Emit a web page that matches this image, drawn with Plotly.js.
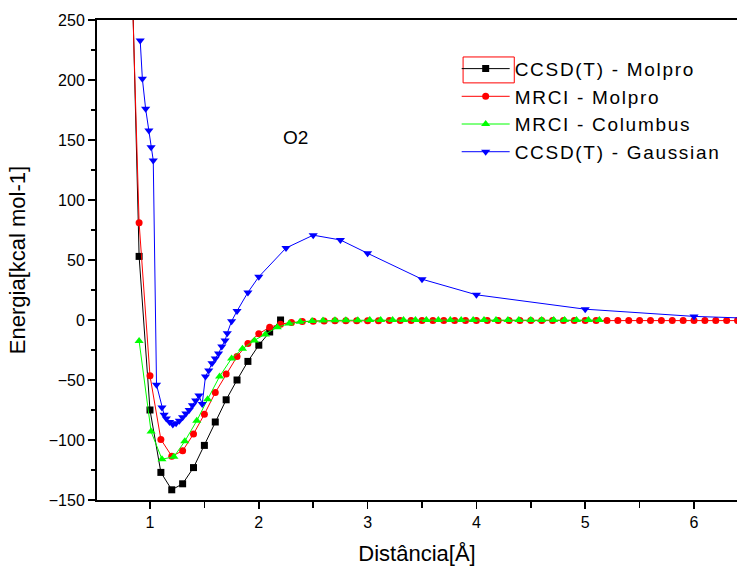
<!DOCTYPE html>
<html>
<head>
<meta charset="utf-8">
<script src="https://cdn.plot.ly/plotly-3.0.1.min.js"></script>
<style>
html,body{margin:0;padding:0;background:#fff;}
#chart{width:737px;height:570px;}
.legendtext{letter-spacing:1.7px;}
</style>
</head>
<body>
<div id="chart"></div>
<script>
// CCSD(T) - Molpro
const blackX = [0.8, 0.9, 1.0, 1.1, 1.2, 1.3, 1.4, 1.5, 1.6, 1.7, 1.8, 1.9, 2.0, 2.1, 2.2];
const blackY = [418, 53, -75, -127, -141.5, -136.5, -123, -104.5, -85, -66.5, -50, -34.5, -21, -10, 0];

// MRCI - Molpro
const redX = [0.8, 0.9, 1.0, 1.1, 1.2, 1.3, 1.4, 1.5, 1.6, 1.7, 1.8, 1.9, 2.0, 2.1, 2.2, 2.3, 2.4, 2.5, 2.6, 2.7,
  2.8, 2.9, 3.0, 3.1, 3.2, 3.3, 3.4, 3.5, 3.6, 3.7, 3.8, 3.9, 4.0, 4.1, 4.2, 4.3, 4.4, 4.5, 4.6, 4.7,
  4.8, 4.9, 5.0, 5.1, 5.2, 5.3, 5.4, 5.5, 5.6, 5.7, 5.8, 5.9, 6.0, 6.1, 6.2, 6.3, 6.4];
const redY = [388, 81, -46.5, -99.5, -113.5, -109, -95, -78.5, -60.5, -45, -30.5, -19.5, -11.5, -6, -3.5, -2, -1.3, -1, -0.8, -0.7,
  -0.6, -0.6, -0.6, -0.6, -0.5, -0.5, -0.5, -0.5, -0.5, -0.5, -0.5, -0.5, -0.5, -0.5, -0.5, -0.5, -0.5, -0.5, -0.5, -0.5,
  -0.5, -0.5, -0.5, -0.5, -0.5, -0.5, -0.5, -0.5, -0.5, -0.5, -0.5, -0.5, -0.5, -0.5, -0.5, -0.5, -0.5];

// MRCI - Columbus
const greenX = [0.90, 1.01, 1.11, 1.22, 1.32, 1.43, 1.53, 1.64, 1.75, 1.85, 1.96, 2.06, 2.17, 2.28, 2.38, 2.49, 2.59, 2.70, 2.80, 2.91,
  3.02, 3.12, 3.23, 3.33, 3.44, 3.54, 3.65, 3.76, 3.86, 3.97, 4.07, 4.18, 4.29, 4.39, 4.50, 4.60, 4.71, 4.81, 4.92, 5.03, 5.13];
const greenY = [-17.5, -93, -116, -114, -101, -84, -66, -47, -32, -24, -17, -12, -6, -3, -1.5, -0.8, -0.5, -0.3, -0.2, -0.2,
  -0.1, -0.1, -0.1, -0.1, -0.1, -0.1, -0.1, -0.1, -0.1, -0.1, -0.1, -0.1, -0.1, -0.1, -0.1, -0.1, -0.1, -0.1, -0.1, -0.1, -0.1];

// CCSD(T) - Gaussian
const blueX = [0.91, 0.93, 0.96, 0.99, 1.01, 1.03, 1.06, 1.11, 1.13, 1.15, 1.18, 1.21, 1.24, 1.27, 1.30, 1.33, 1.36, 1.39, 1.42, 1.45,
  1.48, 1.51, 1.54, 1.57, 1.60, 1.63, 1.66, 1.69, 1.71, 1.75, 1.80, 1.90, 2.0, 2.25, 2.5, 2.75, 3.0, 3.5, 4.0, 5.0, 6.0, 7.0];
const blueY = [233, 201, 176, 158, 144, 133, -54, -73, -79, -82, -85, -87, -86, -84, -81, -78, -75, -71, -67, -63,
  -70, -47, -42, -36, -32, -28, -22, -17, -11, -1, 7.5, 23, 36, 60, 70.7, 66.7, 55.6, 34, 21, 9, 3, 0];

const names = ['CCSD(T) - Molpro', 'MRCI - Molpro', 'MRCI - Columbus', 'CCSD(T) - Gaussian'];

const mk = (x, y, name, color, symbol, size) => ({
  x: x, y: y, name: name, type: 'scatter', mode: 'lines+markers',
  line: {color: color, width: 1},
  marker: {color: color, symbol: symbol, size: size},
  cliponaxis: true
});

const data = [
  mk(blackX, blackY, names[0], '#000000', 'square', 7),
  mk(redX, redY, names[1], '#ff0000', 'circle', 7),
  mk(greenX, greenY, names[2], '#00ff00', 'triangle-up', 8),
  mk(blueX, blueY, names[3], '#0000ff', 'triangle-down', 8)
];

const font = 'Arial, "Liberation Sans", sans-serif';
const layout = {
  width: 737, height: 570,
  margin: {l: 97, r: 0, t: 20, b: 70},
  paper_bgcolor: '#fff', plot_bgcolor: '#fff',
  font: {family: font, color: '#000'},
  showlegend: true,
  legend: {
    x: 0.562, y: 0.938, xanchor: 'left', yanchor: 'top',
    bgcolor: 'rgba(0,0,0,0)', font: {family: font, size: 19, color: '#000'},
    itemwidth: 48, tracegroupgap: 0
  },
  xaxis: {
    range: [0.513, 6.395], showgrid: false, zeroline: false,
    showline: true, linecolor: '#000', linewidth: 2, mirror: true,
    ticks: 'outside', ticklen: 7, tickwidth: 1.5, tickcolor: '#000',
    tickvals: [1, 2, 3, 4, 5, 6],
    minor: {tickvals: [1.5, 2.5, 3.5, 4.5, 5.5], ticks: 'outside', ticklen: 6, tickwidth: 1.5, tickcolor: '#000'},
    tickfont: {family: font, size: 16},
    title: {text: 'Distância[Å]', font: {family: font, size: 22}, standoff: 15}
  },
  yaxis: {
    range: [-150, 250], showgrid: false, zeroline: false,
    showline: true, linecolor: '#000', linewidth: 2, mirror: false,
    ticks: 'outside', ticklen: 7, tickwidth: 1.5, tickcolor: '#000',
    tickvals: [-150, -100, -50, 0, 50, 100, 150, 200, 250],
    minor: {tickvals: [-125, -75, -25, 25, 75, 125, 175, 225], ticks: 'outside', ticklen: 4, tickwidth: 1.5, tickcolor: '#000'},
    tickfont: {family: font, size: 16},
    title: {text: 'Energia[kcal mol-1]', font: {family: font, size: 22}, standoff: 17}
  },
  shapes: [{
    type: 'rect', xref: 'paper', yref: 'paper',
    x0: 0.572, x1: 0.652, y0: 0.869, y1: 0.923,
    line: {color: '#ff0000', width: 1}
  }],
  annotations: [{
    text: 'O2', xref: 'paper', yref: 'paper', x: 0.287, y: 0.781,
    showarrow: false, font: {family: font, size: 19, color: '#000'}
  }]
};

Plotly.newPlot('chart', data, layout, {displayModeBar: false, staticPlot: true});
</script>
</body>
</html>
